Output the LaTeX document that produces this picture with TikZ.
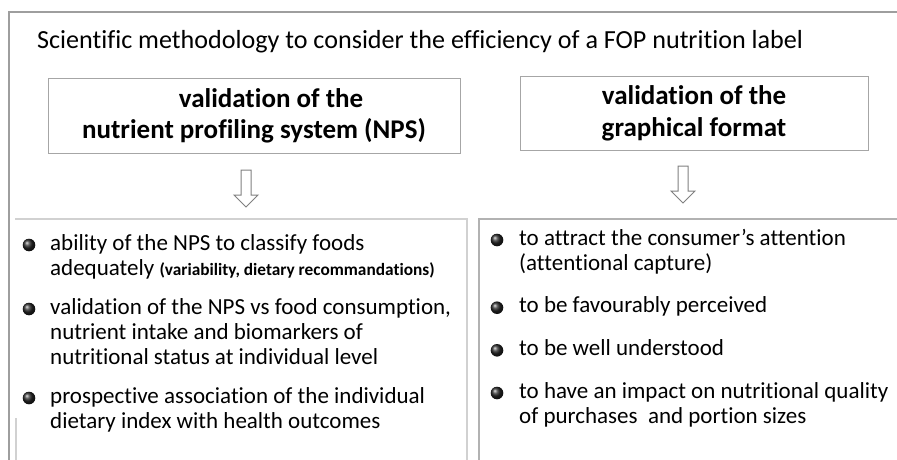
\documentclass[tikz,border=0pt]{standalone}
\usepackage{fontspec}
\setmainfont{Carlito}[Ligatures={NoCommon}]
\newcommand\itemlines[1]{\begin{tabular}[t]{@{}l@{}}#1\end{tabular}}
\begin{document}
\begin{tikzpicture}[x=1pt,y=-1pt,
  frame/.style={draw=black!38,line width=1.3pt},
  headbox/.style={draw=black!35,line width=1pt,align=center,inner sep=0pt,
    font=\fontsize{27}{31.5}\selectfont\bfseries,text=black},
  titletext/.style={font=\fontsize{26.1}{28}\selectfont,text=black,inner sep=0pt},
  itemtext/.style={font=\fontsize{23}{25}\selectfont,text=black,inner sep=0pt,anchor=base west},
  arrowline/.style={draw=black!50,line width=1pt,fill=white},
  lightline/.style={draw=black!18,line width=1.2pt},
  midline/.style={draw=black!30,line width=1.2pt},
  bullet/.style={ball color=black!85},
  downarrow/.pic={\draw[arrowline] (-5,0) -- (-5,25) -- (-12,25) -- (0,37) -- (12,25) -- (5,25) -- (5,0) -- cycle;}
]
\useasboundingbox[fill=white] (0,0) rectangle (897,460);
\draw[frame] (9,461) -- (9,12) -- (898,12);
\node[titletext,anchor=base west] (title) at (37,49)
  {Scientific methodology to consider the efficiency of a FOP nutrition label};
\node[headbox,minimum width=412,minimum height=75] (hl) at (254,116)
  {\hspace*{34pt}validation of the\\nutrient profiling system (NPS)};
\node[headbox,minimum width=348,minimum height=73] (hr) at (694,113.5)
  {validation of the\\graphical format};
\pic at (246,170) {downarrow};
\pic at (683,166) {downarrow};
% lower boxes
\draw[lightline] (15,219) -- (467,219) -- (467,461);
\draw[lightline] (16,418) -- (16,461);
\draw[midline] (479,461) -- (479,219) -- (898,219);
% left items
\shade[bullet] (29,245) circle (6.3);
\shade[bullet] (29,309) circle (6.3);
\shade[bullet] (29,398) circle (6.3);
\node[itemtext] (l1) at (50,250) {\itemlines{ability of the NPS to classify foods\\
  adequately {\fontsize{17.3}{25}\selectfont\bfseries (variability, dietary recommandations)}}};
\node[itemtext] (l2) at (50,314) {\itemlines{validation of the NPS vs food consumption,\\
  nutrient intake and biomarkers of\\nutritional status at individual level}};
\node[itemtext] (l3) at (50,403) {\itemlines{prospective association of the individual\\
  dietary index with health outcomes}};
% right items
\shade[bullet] (497,240) circle (6.3);
\shade[bullet] (497,307.7) circle (6.3);
\shade[bullet] (497,350.3) circle (6.3);
\shade[bullet] (497,393) circle (6.3);
\node[itemtext] (r1) at (519,245) {\itemlines{to attract the consumer’s attention\\(attentional capture)}};
\node[itemtext] (r2) at (519,312.7) {to be favourably perceived};
\node[itemtext] (r3) at (519,355.3) {to be well understood};
\node[itemtext] (r4) at (519,398) {\itemlines{to have an impact on nutritional quality\\of purchases\ \ and portion sizes}};
\end{tikzpicture}
\end{document}
